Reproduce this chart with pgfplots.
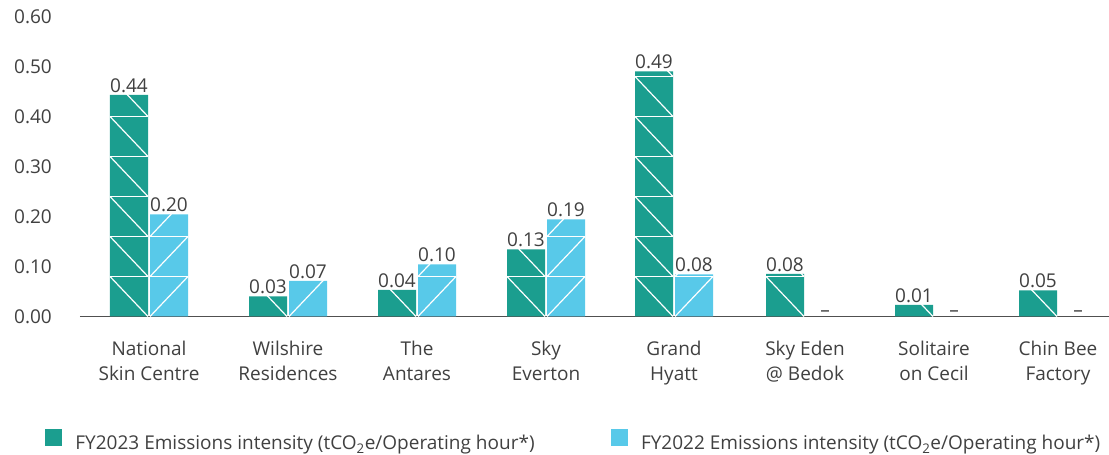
\documentclass[border=0pt]{standalone}
\usepackage{pgfplots}
\pgfplotsset{compat=1.18}
\usepackage{pgfplotstable}
\usepackage{fontspec}
\setmainfont{Open Sans}
\definecolor{cA}{HTML}{1B9E8F}
\definecolor{cB}{HTML}{58C9E9}
\definecolor{txt}{HTML}{404040}
\definecolor{axc}{HTML}{505050}

\pgfplotstableread{
x y lab
149 0.443 0.44
288 0.040 0.03
417 0.053 0.04
546 0.134 0.13
674 0.490 0.49
805 0.085 0.08
934 0.023 0.01
1058 0.052 0.05
}\fyA
\pgfplotstableread{
x y lab
149 0.204 0.20
288 0.071 0.07
417 0.104 0.10
546 0.194 0.19
674 0.084 0.08
}\fyB
\pgfplotstableread{
x y
805 0
934 0
1058 0
}\fyBnone

\newcommand{\ff}{\fontsize{19}{25}\selectfont}

\begin{document}
\ff
\begin{tikzpicture}
\useasboundingbox (0,0) rectangle (1109pt,455pt);
\begin{axis}[
  at={(80pt,138.5pt)}, anchor=south west,
  scale only axis, width=1029pt, height=300pt,
  xmin=80, xmax=1109, ymin=0, ymax=0.6,
  clip=false,
  axis x line*=bottom, axis y line*=left,
  y axis line style={draw=none},
  x axis line style={draw=axc, line width=1.2pt},
  major tick length=0pt, tick style={draw=none},
  ytick={0,0.1,0.2,0.3,0.4,0.5,0.6},
  /pgf/number format/assume math mode=true,
  yticklabel style={/pgf/number format/fixed, /pgf/number format/fixed zerofill, /pgf/number format/precision=2,
    anchor=east, inner sep=0pt, xshift=-28pt, font=\ff, text=txt},
  xtick={149,288,417,546,674,805,934,1058},
  xticklabels={{National\\Skin Centre},{Wilshire\\Residences},{The\\Antares},{Sky\\Everton},{Grand\\Hyatt},{Sky Eden\\@ Bedok},{Solitaire\\on Cecil},{Chin Bee\\Factory}},
  xticklabel style={align=center, anchor=north, inner sep=0pt, yshift=-24pt, font=\ff, text=txt},
  bar width=38pt,
  unbounded coords=jump,
  every node near coord/.append style={anchor=base, yshift=2.5pt, inner sep=0pt, font=\ff, text=txt},
  legend columns=2,
  legend cell align=left,
  legend style={draw=none, fill=none, at={(axis description cs:-0.034,-0.4133)}, anchor=west,
    inner sep=0pt, outer sep=0pt, nodes={inner sep=0pt, text=txt, font=\ff},
    /tikz/every odd column/.append style={column sep=14pt},
    /tikz/every even column/.append style={column sep=76pt}},
]
% bars
\addplot[ybar, bar shift=-20pt, fill=cA, draw=none, forget plot] table[x=x,y=y]{\fyA};
\addplot[ybar, bar shift=20pt, fill=cB, draw=none, forget plot] table[x=x,y=y]{\fyB};
% white block pattern: horizontal joints every 0.08
\addplot[sharp plot, white, line width=1.8pt, forget plot] coordinates {
 (110,0.08) (148,0.08) (0,nan) (110,0.16) (148,0.16) (0,nan) (110,0.24) (148,0.24) (0,nan)
 (110,0.32) (148,0.32) (0,nan) (110,0.40) (148,0.40) (0,nan)
 (507,0.08) (545,0.08) (0,nan)
 (635,0.08) (673,0.08) (0,nan) (635,0.16) (673,0.16) (0,nan) (635,0.24) (673,0.24) (0,nan)
 (635,0.32) (673,0.32) (0,nan) (635,0.40) (673,0.40) (0,nan) (635,0.48) (673,0.48) (0,nan)
 (766,0.08) (804,0.08) (0,nan)
 (150,0.08) (188,0.08) (0,nan) (150,0.16) (188,0.16) (0,nan)
 (418,0.08) (456,0.08) (0,nan)
 (547,0.08) (585,0.08) (0,nan) (547,0.16) (585,0.16) (0,nan)
 (675,0.08) (713,0.08)
};
% white diagonals, FY2023 (down to the right)
\addplot[sharp plot, white, line width=1.2pt, forget plot] coordinates {
 (110,0.08) (148,0) (0,nan) (110,0.16) (148,0.08) (0,nan) (110,0.24) (148,0.16) (0,nan)
 (110,0.32) (148,0.24) (0,nan) (110,0.40) (148,0.32) (0,nan) (110,0.48) (148,0.40) (0,nan)
 (249,0.08) (287,0) (0,nan)
 (378,0.08) (416,0) (0,nan)
 (507,0.08) (545,0) (0,nan) (507,0.16) (545,0.08) (0,nan)
 (635,0.08) (673,0) (0,nan) (635,0.16) (673,0.08) (0,nan) (635,0.24) (673,0.16) (0,nan)
 (635,0.32) (673,0.24) (0,nan) (635,0.40) (673,0.32) (0,nan) (635,0.48) (673,0.40) (0,nan)
 (635,0.56) (673,0.48) (0,nan)
 (766,0.08) (804,0) (0,nan) (766,0.16) (804,0.08) (0,nan)
 (895,0.08) (933,0) (0,nan)
 (1019,0.08) (1057,0)
};
% white diagonals, FY2022 (up to the right)
\addplot[sharp plot, white, line width=1.2pt, forget plot] coordinates {
 (150,0) (188,0.08) (0,nan) (150,0.08) (188,0.16) (0,nan) (150,0.16) (188,0.24) (0,nan)
 (289,0) (327,0.08) (0,nan)
 (418,0) (456,0.08) (0,nan) (418,0.08) (456,0.16) (0,nan)
 (547,0) (585,0.08) (0,nan) (547,0.08) (585,0.16) (0,nan) (547,0.16) (585,0.24) (0,nan)
 (675,0) (713,0.08) (0,nan) (675,0.08) (713,0.16)
};
% value labels
\addplot[ybar, bar shift=-20pt, draw=none, fill=none, forget plot,
  point meta=explicit symbolic, nodes near coords,
  every node near coord/.append style={xshift=-20pt}] table[x=x,y=y,meta=lab]{\fyA};
\addplot[ybar, bar shift=20pt, draw=none, fill=none, forget plot,
  point meta=explicit symbolic, nodes near coords,
  every node near coord/.append style={xshift=20pt}] table[x=x,y=y,meta=lab]{\fyB};
\addplot[ybar, bar shift=20pt, draw=none, fill=none, forget plot,
  nodes near coords={\textendash}, every node near coord/.append style={xshift=20pt, yshift=-2.5pt}] table[x=x,y=y]{\fyBnone};
\addlegendimage{legend image code/.code={\fill[cA] (0pt,-1pt) rectangle (16pt,15pt);}}
\addlegendentry{FY2023 Emissions intensity (tCO\textsubscript{2}e/Operating hour*)}
\addlegendimage{legend image code/.code={\fill[cB] (0pt,-1pt) rectangle (16pt,15pt);}}
\addlegendentry{FY2022 Emissions intensity (tCO\textsubscript{2}e/Operating hour*)}
\end{axis}
\end{tikzpicture}
\end{document}
